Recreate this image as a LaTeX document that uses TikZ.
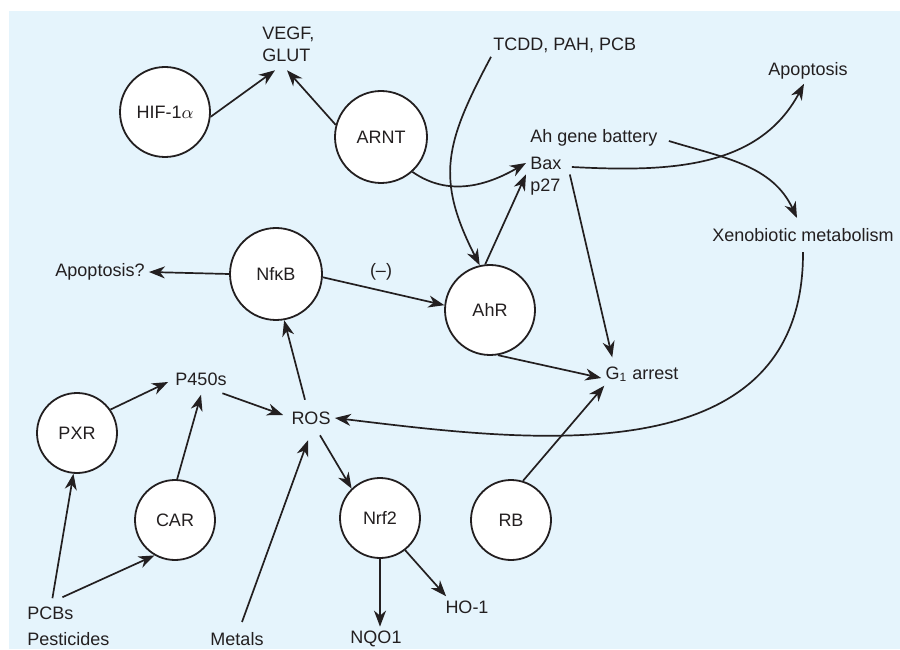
\documentclass[tikz,border=0pt]{standalone}
\usepackage{fontspec}
\setmainfont{Liberation Sans}
\usetikzlibrary{arrows.meta}
\definecolor{ink}{RGB}{35,31,32}
\definecolor{panel}{RGB}{229,244,252}
\tikzset{
	bubble/.style={circle,draw=ink,fill=white,line width=0.9pt,minimum size=#1,inner sep=0pt,text=ink,font=\fontsize{9}{11}\selectfont},
	lbl/.style={inner sep=2pt,text=ink,font=\fontsize{9}{11}\selectfont},
	arr/.style={draw=ink,line width=0.85pt,-{Stealth[length=8pt,width=6pt,inset=2.5pt]}}
}
\begin{document}
\begin{tikzpicture}[x=0.5pt,y=0.5pt]
		\useasboundingbox (0,0) rectangle (900,649);
		\fill[panel] (9,0) rectangle (900,638);

		\node[bubble=45pt] (hif) at (165,537) {HIF-1$\alpha$};
		\node[bubble=46pt] (arnt) at (381,512) {ARNT};
		\node[bubble=46pt] (nfkb) at (276,375) {NfκB};
		\node[bubble=45pt] (ahr) at (490,339) {AhR};
		\node[bubble=40pt] (pxr) at (77,216) {PXR};
		\node[bubble=40pt] (car) at (175,129) {CAR};
		\node[bubble=40pt] (nrf) at (380,131) {Nrf2};
		\node[bubble=40pt] (rb) at (511,129) {RB};

		\node[lbl,anchor=west,align=left] (vegf) at (258,605) {VEGF,\\GLUT};
		\node[lbl,anchor=west] (tcdd) at (489,604) {TCDD, PAH, PCB};
		\node[lbl] (apop) at (808,578) {Apoptosis};
		\node[lbl,anchor=west] (ahgb) at (526,511) {Ah gene battery};
		\node[lbl,anchor=west] (bax) at (526,486) {Bax};
		\node[lbl,anchor=west] (p27) at (526,462) {p27};
		\node[lbl] (xeno) at (803,414) {Xenobiotic metabolism};
		\node[lbl] (apopq) at (100,377) {Apoptosis?};
		\node[lbl] (minus) at (381,377) {(--)};
		\node[lbl] (g1) at (642,275) {G\textsubscript{1} arrest};
		\node[lbl] (p450) at (201,270) {P450s};
		\node[lbl] (ros) at (311,231) {ROS};
		\node[lbl,anchor=west] (pcbs) at (23,36) {PCBs};
		\node[lbl,anchor=west] (pest) at (23,10) {Pesticides};
		\node[lbl] (metals) at (237,10) {Metals};
		\node[lbl] (nqo1) at (376,10) {NQO1};
		\node[lbl] (ho1) at (467,42) {HO-1};

		\draw[arr] (hif.-6) -- ([xshift=8.5pt,yshift=-2.25pt]vegf.south west);
		\draw[arr] (arnt.165) -- ([xshift=14.5pt,yshift=-2.25pt]vegf.south west);
		\draw[arr] (arnt.-48) to[out=-35,in=210] (bax.west);
		\draw[arr] ([xshift=1pt]tcdd.south west) to[out=-118,in=117,looseness=1.2] (ahr.103);
		\draw[arr] (ahr.96) -- (p27.north west);
		\draw[arr] ([xshift=3pt,yshift=-2pt]bax.east) to[out=-3,in=242] ([xshift=-2pt]apop.south);
		\draw[arr] ([xshift=3.5pt,yshift=-1.5pt]ahgb.east) to[out=-17,in=115] ([xshift=-3pt,yshift=3pt]xeno.north);
		\draw[arr] ([xshift=2.5pt]p27.north east) -- ([xshift=5.5pt,yshift=2.5pt]g1.north west);
		\draw[arr] (ahr.-80) -- ([yshift=-2pt]g1.west);
		\draw[arr] (rb.73) -- ([xshift=1.5pt]g1.south west);
		\draw[arr] (nfkb.west) -- (apopq.east);
		\draw[arr] (nfkb.-4) -- (ahr.174);
		\draw[arr] ([xshift=-3pt,yshift=3.75pt]ros.north) -- (nfkb.-80);
		\draw[arr] ([xshift=-4.25pt,yshift=-1.75pt]p450.south east) -- ([xshift=-2pt,yshift=1.5pt]ros.west);
		\draw[arr] (pxr.35) -- ([xshift=-1.5pt,yshift=-1.5pt]p450.west);
		\draw[arr] (car.87) -- ([yshift=-2.5pt]p450.south);
		\draw[arr] ([yshift=-3pt]xeno.south) .. controls (804,169) and (520,209) .. (ros.east);
		\draw[arr] ([xshift=4.5pt,yshift=-3.25pt]ros.south) -- (nrf.134);
		\draw[arr] ([xshift=2.5pt,yshift=3pt]metals.north) -- ([xshift=-1.5pt,yshift=-5.75pt]ros.south);
		\draw[arr] (nrf.south) -- (nrf.south |- nqo1.north);
		\draw[arr] (nrf.-52) -- ([xshift=2.5pt]ho1.north west);
		\draw[arr] ([xshift=1pt,yshift=2pt]pcbs.north) -- (pxr.-95);
		\draw[arr] ([xshift=6pt,yshift=2.5pt]pcbs.north) -- (car.-120);
	\end{tikzpicture}
\end{document}
